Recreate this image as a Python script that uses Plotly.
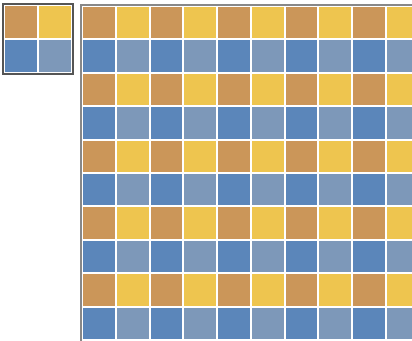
"""Checkerboard pattern tile plus the tiled grid, as two heatmaps."""

import plotly.graph_objects as go

# colour index per cell: 0 tan, 1 yellow, 2 blue, 3 grey-blue
tile_rows = [
    [0, 1],
    [2, 3],
]

grid_rows = [
    [0, 1, 0, 1, 0, 1, 0, 1, 0, 1],
    [2, 3, 2, 3, 2, 3, 2, 3, 2, 3],
    [0, 1, 0, 1, 0, 1, 0, 1, 0, 1],
    [2, 3, 2, 3, 2, 3, 2, 3, 2, 3],
    [0, 1, 0, 1, 0, 1, 0, 1, 0, 1],
    [2, 3, 2, 3, 2, 3, 2, 3, 2, 3],
    [0, 1, 0, 1, 0, 1, 0, 1, 0, 1],
    [2, 3, 2, 3, 2, 3, 2, 3, 2, 3],
    [0, 1, 0, 1, 0, 1, 0, 1, 0, 1],
    [2, 3, 2, 3, 2, 3, 2, 3, 2, 3],
]

palette = ["#cb9659", "#eec54f", "#5b86ba", "#7d98b9"]

W, H = 412, 341

colorscale = [[i / (len(palette) - 1), c] for i, c in enumerate(palette)]


def brick(z, xaxis, yaxis):
    return go.Heatmap(
        z=z,
        xaxis=xaxis,
        yaxis=yaxis,
        zmin=0,
        zmax=len(palette) - 1,
        colorscale=colorscale,
        showscale=False,
        xgap=2,
        ygap=2,
        hoverinfo="skip",
    )


fig = go.Figure()
fig.add_trace(brick(tile_rows, "x", "y"))
fig.add_trace(brick(grid_rows, "x2", "y2"))

# small pattern tile, boxed on all four sides
fig.update_layout(
    xaxis=dict(
        domain=[4 / W, 72 / W],
        range=[-0.5, 1.5],
        showline=True, mirror=True, linecolor="#555", linewidth=2,
        showgrid=False, zeroline=False, showticklabels=False, ticks="",
    ),
    yaxis=dict(
        domain=[1 - 73 / H, 1 - 5 / H],
        range=[1.5, -0.5],
        showline=True, mirror=True, linecolor="#555", linewidth=2,
        showgrid=False, zeroline=False, showticklabels=False, ticks="",
    ),
)

# tiled grid, cut off by the right and bottom edges
cell_w, cell_h = 33.75, 33.4
fig.update_layout(
    xaxis2=dict(
        domain=[82 / W, 1],
        range=[-0.5, -0.5 + (W - 82) / cell_w],
        anchor="y2", side="top",
        showline=True, linecolor="#888", linewidth=2,
        showgrid=False, zeroline=False, showticklabels=False, ticks="",
    ),
    yaxis2=dict(
        domain=[0, 1 - 6 / H],
        range=[-0.5 + (H - 6) / cell_h, -0.5],
        anchor="x2",
        showline=True, linecolor="#888", linewidth=2,
        showgrid=False, zeroline=False, showticklabels=False, ticks="",
    ),
)

fig.update_layout(
    width=W,
    height=H,
    margin=dict(l=0, r=0, t=0, b=0),
    paper_bgcolor="white",
    plot_bgcolor="white",
    showlegend=False,
)

fig.write_html(
    "out.html",
    config={"displayModeBar": False},
    post_script="document.body.style.margin = '0';",
)
